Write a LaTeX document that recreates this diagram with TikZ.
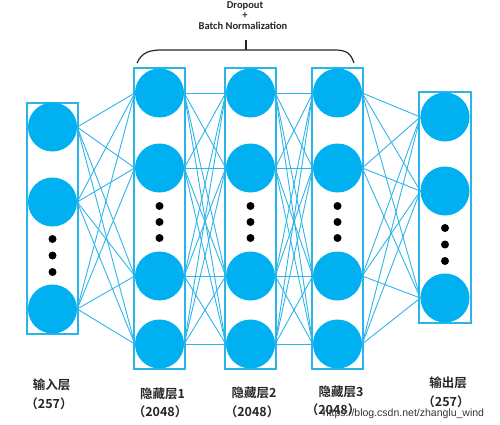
\documentclass[tikz,border=0pt]{standalone}
\usepackage{fontspec}
\setmainfont{Carlito}
\newfontfamily\cjk{Noto Sans CJK SC}[BoldFont={Noto Sans CJK SC Bold}]
\newfontfamily\wmfont{Liberation Sans}
\definecolor{neuron}{HTML}{00B0F0}
\definecolor{wire}{HTML}{2DB5EA}
\definecolor{frame}{HTML}{2AB5EA}
\tikzset{
  neuronnode/.style={circle, fill=neuron, minimum size=49pt, inner sep=0pt},
  layerbox/.style={draw=frame, line width=1.4pt, inner sep=0pt},
  dotnode/.style={circle, fill=black, minimum size=8pt, inner sep=0pt},
  wireline/.style={draw=wire, line width=0.9pt},
  cnlabel/.style={font=\cjk\bfseries\fontsize{12.5}{14}\selectfont, inner sep=0pt, text=black!85},
  toplabel/.style={font=\bfseries\fontsize{10.5}{12}\selectfont, inner sep=0pt, text=black!85},
}
\begin{document}
\begin{tikzpicture}[x=1pt,y=-1pt]
\useasboundingbox (0,0) rectangle (500,425);
% layer boxes
\node[layerbox, minimum width=51pt, minimum height=231pt] (boxin) at (52.5,218.5) {};
\node[layerbox, minimum width=51pt, minimum height=301pt] (boxa) at (159.5,218.5) {};
\node[layerbox, minimum width=51pt, minimum height=301pt] (boxb) at (250.5,218.5) {};
\node[layerbox, minimum width=51pt, minimum height=301pt] (boxc) at (337.5,218.5) {};
\node[layerbox, minimum width=52pt, minimum height=231pt] (boxout) at (445,207.5) {};
% input
\node[neuronnode] (i1) at (52.5,127) {};
\node[neuronnode] (i2) at (52.5,202) {};
\node[neuronnode] (i3) at (52.5,309) {};
% hidden layers
\foreach \L/\X in {a/159.5, b/250.5, c/337.5}{
  \node[neuronnode] (\L1) at (\X,93) {};
  \node[neuronnode] (\L2) at (\X,168) {};
  \node[neuronnode] (\L3) at (\X,276) {};
  \node[neuronnode] (\L4) at (\X,344) {};
  \node[dotnode] (\L d1) at (\X,206) {};
  \node[dotnode] (\L d2) at (\X,222) {};
  \node[dotnode] (\L d3) at (\X,238) {};
}
% output
\node[neuronnode] (o1) at (445,117) {};
\node[neuronnode] (o2) at (445,191) {};
\node[neuronnode] (o3) at (445,298) {};
% dots
\node[dotnode] (id1) at (52.5,239) {};
\node[dotnode] (id2) at (52.5,255.5) {};
\node[dotnode] (id3) at (52.5,272) {};
\node[dotnode] (od1) at (445,228) {};
\node[dotnode] (od2) at (445,244.5) {};
\node[dotnode] (od3) at (445,261) {};
% connections
\foreach \s in {1,2,3}{\foreach \t in {1,2,3,4}{\draw[wireline] (i\s.east) -- (a\t.west);}}
\foreach \s in {1,2,3,4}{\foreach \t in {1,2,3,4}{
  \draw[wireline] (a\s.east) -- (b\t.west);
  \draw[wireline] (b\s.east) -- (c\t.west);}}
\foreach \s in {1,2,3,4}{\foreach \t in {1,2,3}{\draw[wireline] (c\s.east) -- (o\t.west);}}
% brace and top label
\coordinate (brl) at (137,63);
\coordinate (brr) at (354,63);
\coordinate (brtip) at (246,40);
\draw[line width=1.2pt, black!85] (brl) .. controls (142,52) and (150,50) .. (162,50) -- (335,50) .. controls (347,50) and (351,54) .. (brr);
\draw[line width=1.2pt, black!85] (246,50) -- (brtip);
\node[toplabel] (dropout) at (245,6) {Dropout};
\node[toplabel] (plus) at (245,15.5) {+};
\node[toplabel] (bn) at (243,26) {Batch Normalization};
% bottom labels
\node[cnlabel] (lin1) at (51.5,385) {输入层};
\node[cnlabel] (lin2) at (49,404) {（257）};
\node[cnlabel] (la1) at (162.5,394) {隐藏层1};
\node[cnlabel] (la2) at (160,412) {（2048）};
\node[cnlabel] (lb1) at (254,393) {隐藏层2};
\node[cnlabel] (lb2) at (252,412) {（2048）};
\node[cnlabel] (lc1) at (341,392) {隐藏层3};
\node[cnlabel] (lc2) at (333,410) {（2048）};
\node[cnlabel] (lo1) at (448,383) {输出层};
\node[cnlabel] (lo2) at (446,402) {（257）};
\node[font=\wmfont\fontsize{10.5}{12}\selectfont, text=black!80, inner sep=0pt] (wm) at (403.5,413.5) {https://blog.csdn.net/zhanglu\_wind};
\end{tikzpicture}
\end{document}
